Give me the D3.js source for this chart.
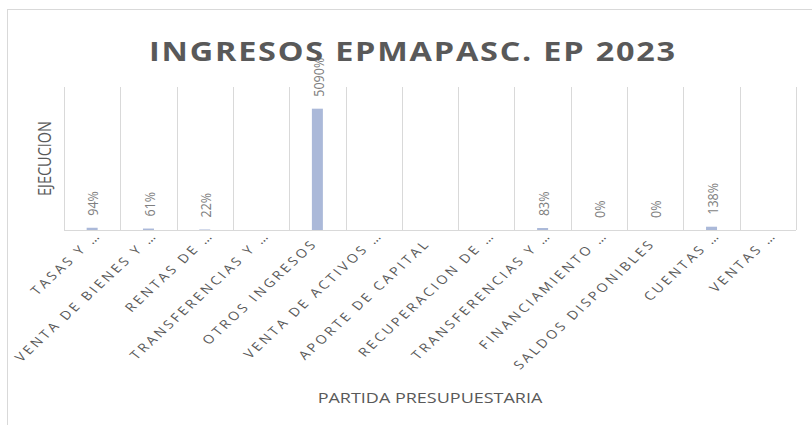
<!DOCTYPE html>
<html>
<head>
<meta charset="utf-8">
<script src="https://cdn.jsdelivr.net/npm/d3@7"></script>
<style>
	body { margin: 0; background: #fff; }
	svg text { font-family: "Open Sans", sans-serif; }
</style>
</head>
<body>
<svg id="chart" width="812" height="425"></svg>
<script>
// categories (partidas) and execution values, as fractions
var categories = [
	"TASAS Y \u2026",
	"VENTA DE BIENES Y \u2026",
	"RENTAS DE \u2026",
	"TRANSFERENCIAS Y \u2026",
	"OTROS INGRESOS",
	"VENTA DE ACTIVOS \u2026",
	"APORTE DE CAPITAL",
	"RECUPERACION DE \u2026",
	"TRANSFERENCIAS Y \u2026",
	"FINANCIAMIENTO \u2026",
	"SALDOS DISPONIBLES",
	"CUENTAS \u2026",
	"VENTAS \u2026"
];
var ejecucion = [0.94, 0.61, 0.22, null, 50.90, null, null, null, 0.83, 0, 0, 1.38, null];
var yDomain = [0, 60];

var chartTitle = "INGRESOS EPMAPASC. EP 2023";
var yTitle = "EJECUCION";
var xTitle = "PARTIDA PRESUPUESTARIA";

var svg = d3.select("svg#chart");
var plot = { left : 64, right : 796, top : 87, bottom : 230 };
// the original picture is stretched sideways, text with it
var stretch = "scale(1.2,1)";

// chart frame (runs off the right and bottom of the picture)
svg.append("rect")
.attr("x", 7.5)
.attr("y", 9.5)
.attr("width", 900)
.attr("height", 500)
.attr("fill", "none")
.attr("stroke", "#d9d9d9");

var x = d3.scaleBand()
.domain(d3.range(categories.length))
.range([plot.left, plot.right]);

var y = d3.scaleLinear()
.domain(yDomain)
.range([plot.bottom, plot.top]);

// vertical separators between categories
var grid = svg.append("g").attr("class", "grid");
for (var i = 0; i <= categories.length; i++) {
	var gx = i < categories.length ? x(i) : x(i - 1) + x.bandwidth();
	grid.append("line")
	.attr("x1", Math.round(gx) + 0.5)
	.attr("x2", Math.round(gx) + 0.5)
	.attr("y1", plot.top)
	.attr("y2", plot.bottom)
	.attr("stroke", "#d9d9d9");
}

// bars + data labels (empty partidas get nothing)
var barW = 11;
var bars = svg.append("g").attr("class", "bars");
var labels = svg.append("g").attr("class", "labels");
ejecucion.forEach(function (d, i) {
	if (d === null) return;
	var cx = x(i) + x.bandwidth() / 2;
	bars.append("rect")
	.attr("x", cx - barW / 2)
	.attr("y", y(d))
	.attr("width", barW)
	.attr("height", plot.bottom - y(d))
	.attr("fill", "#abb9d9");

	labels.append("text")
	.text(Math.round(d * 100) + "%")
	.attr("transform", "translate(" + (cx + 1) + "," + (y(d) - 12) + ") " + stretch + " rotate(-90)")
	.attr("dy", "0.35em")
	.attr("font-size", 12.5)
	.attr("fill", "#7f7f7f");
});

// x axis line
svg.append("line")
.attr("x1", plot.left)
.attr("x2", plot.right)
.attr("y1", plot.bottom + 0.5)
.attr("y2", plot.bottom + 0.5)
.attr("stroke", "#d9d9d9");

// category labels, rotated; the cut ones sit a little further out
svg.append("g")
.selectAll("text")
.data(categories)
.enter()
.append("text")
.text(function (d) { return d; })
.attr("transform", function (d, i) {
	var cx = x(i) + x.bandwidth() / 2;
	return "translate(" + (cx + 1) + "," + (plot.bottom + 14) + ") " + stretch + " rotate(-48)";
})
.attr("dx", function (d) { return d.slice(-1) === "\u2026" ? 11 : 0; })
.attr("text-anchor", "end")
.attr("font-size", 12)
.attr("letter-spacing", 2.6)
.attr("fill", "#595959");

// titles
svg.append("text")
.text(chartTitle)
.attr("transform", "translate(413,61) " + stretch)
.attr("text-anchor", "middle")
.attr("font-size", 27)
.attr("font-weight", "bold")
.attr("letter-spacing", 1.5)
.attr("fill", "#595959");

svg.append("text")
.text(yTitle)
.attr("transform", "translate(51," + ((plot.top + plot.bottom) / 2) + ") " + stretch + " rotate(-90)")
.attr("text-anchor", "middle")
.attr("font-size", 14.5)
.attr("fill", "#595959");

svg.append("text")
.text(xTitle)
.attr("transform", "translate(430,403) " + stretch)
.attr("text-anchor", "middle")
.attr("font-size", 15)
.attr("fill", "#595959");
</script>
</body>
</html>
